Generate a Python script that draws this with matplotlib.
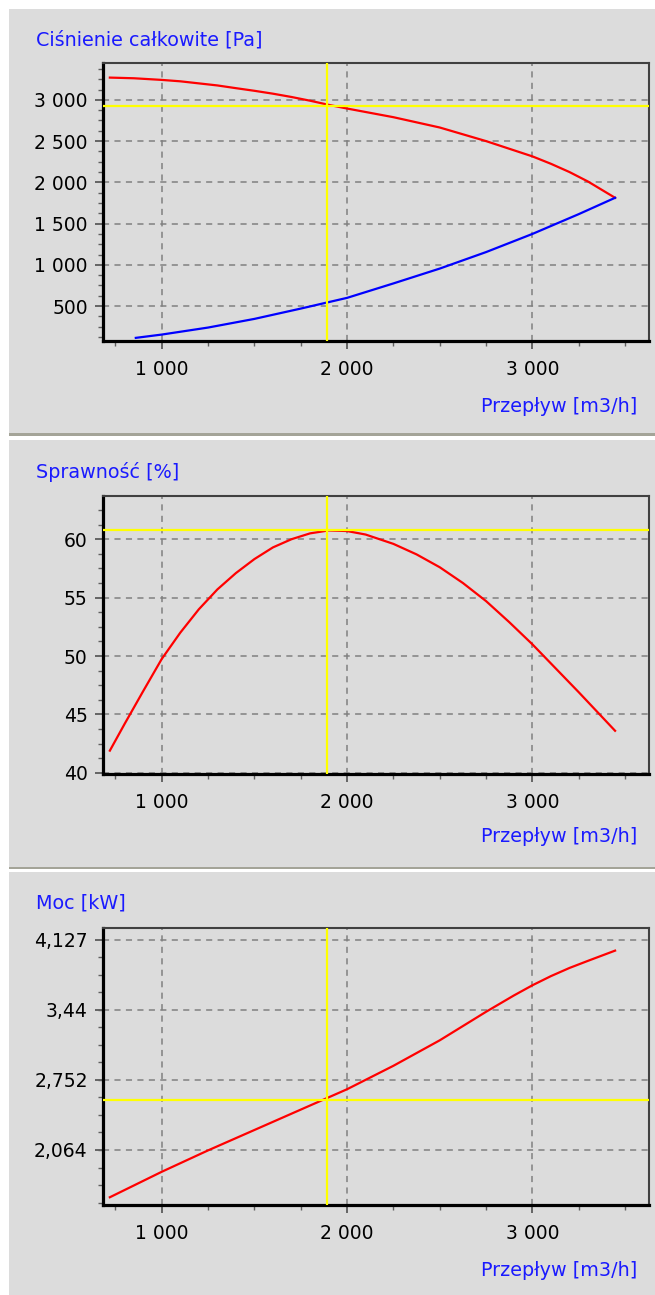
import matplotlib
matplotlib.use("Agg")
import matplotlib.pyplot as plt
from matplotlib.patches import Rectangle
from matplotlib.ticker import FixedLocator, FuncFormatter, MultipleLocator

W, H = 655, 1295

# fan curve data
flow_pressure = [720, 850, 1000, 1100, 1200, 1300, 1400, 1500, 1600, 1700,
                 1800, 1900, 2000, 2250, 2500, 2750, 3000, 3100, 3200, 3300, 3400, 3446]
pressure_total = [3270, 3262, 3242, 3225, 3200, 3175, 3142, 3110, 3075, 3035,
                  2990, 2940, 2895, 2790, 2665, 2500, 2315, 2225, 2125, 2010, 1875, 1813]

flow_system = [860, 1000, 1250, 1500, 1750, 2000, 2250, 2500, 2750, 3000, 3250, 3446]
pressure_system = [115, 155, 240, 345, 470, 600, 775, 955, 1155, 1375, 1615, 1813]

flow_eff = [720, 800, 900, 1000, 1100, 1200, 1300, 1400, 1500, 1600, 1700,
            1800, 1900, 2000, 2100, 2250, 2375, 2500, 2625, 2750, 2875, 3000, 3250, 3446]
efficiency = [41.9, 44.2, 47.0, 49.75, 52.0, 54.0, 55.7, 57.1, 58.3, 59.3, 60.0,
              60.5, 60.75, 60.7, 60.4, 59.6, 58.7, 57.6, 56.25, 54.7, 52.9, 51.0, 46.9, 43.6]

flow_power = [720, 1000, 1250, 1500, 1750, 2000, 2250, 2500, 2750, 2900,
              3000, 3100, 3200, 3300, 3446]
power = [1.60, 1.85, 2.06, 2.26, 2.46, 2.66, 2.89, 3.14, 3.42, 3.58,
         3.68, 3.77, 3.85, 3.92, 4.02]

# operating point
op_flow = 1892
op_pressure = 2928
op_efficiency = 60.8
op_power = 2.555

power_ticks = [2.064, 2.752, 3.44, 4.127]

BG = "#dcdcdc"
BLUE = "#1a1aff"


def fig_rect(x, y, w, h, color):
    r = Rectangle((x / W, 1 - (y + h) / H), w / W, h / H,
                  transform=fig.transFigure, facecolor=color, edgecolor="none", zorder=-10)
    fig.add_artist(r)


def space_thousands(v, pos):
    return f"{int(round(v)):,}".replace(",", " ")


def comma_decimal(v, pos):
    s = f"{v:.3f}".rstrip("0").rstrip(".")
    return s.replace(".", ",")


def style_axes(ax):
    ax.set_facecolor(BG)
    ax.set_xlim(683, 3629)
    ax.xaxis.set_major_locator(FixedLocator([1000, 2000, 3000]))
    ax.xaxis.set_minor_locator(MultipleLocator(250))
    ax.xaxis.set_major_formatter(FuncFormatter(space_thousands))
    ax.grid(True, which="major", color="#808080", linestyle=(0, (4, 3.5)), linewidth=1.1)
    ax.set_axisbelow(True)
    for side in ("left", "bottom"):
        ax.spines[side].set_linewidth(2.3)
        ax.spines[side].set_color("black")
    for side in ("top", "right"):
        ax.spines[side].set_linewidth(1.5)
        ax.spines[side].set_color("#404040")
    ax.tick_params(which="major", direction="out", length=6, width=1.2, color="#505050",
                   labelsize=13.5, pad=5)
    ax.tick_params(which="minor", direction="out", length=3.5, width=1.0, color="#606060")
    ax.tick_params(axis="x", which="major", pad=8)


def add_axes_px(left, top, right, bottom):
    return fig.add_axes([left / W, 1 - bottom / H, (right - left) / W, (bottom - top) / H])


fig = plt.figure(figsize=(W / 100, H / 100), dpi=100, facecolor="white")

# panel backgrounds and separators
fig_rect(9, 9, W - 9, 424, BG)
fig_rect(9, 433, W - 9, 3, "#a4a498")
fig_rect(9, 440, W - 9, 427, BG)
fig_rect(9, 867, W - 9, 2, "#a4a498")
fig_rect(9, 872, W - 9, H - 872, BG)

# panel 1: total pressure
ax1 = add_axes_px(103, 63, 649, 341)
style_axes(ax1)
ax1.set_ylim(77, 3447)
ax1.yaxis.set_major_locator(FixedLocator([500, 1000, 1500, 2000, 2500, 3000]))
ax1.yaxis.set_minor_locator(MultipleLocator(125))
ax1.yaxis.set_major_formatter(FuncFormatter(space_thousands))
ax1.plot(flow_pressure, pressure_total, color="red", linewidth=1.6, zorder=3)
ax1.plot(flow_system, pressure_system, color="blue", linewidth=1.6, zorder=3)
ax1.axvline(op_flow, color="yellow", linewidth=1.6, zorder=4)
ax1.axhline(op_pressure, color="yellow", linewidth=1.6, zorder=4)

# panel 2: efficiency
ax2 = add_axes_px(103, 496, 649, 774)
style_axes(ax2)
ax2.set_ylim(39.9, 63.7)
ax2.yaxis.set_major_locator(FixedLocator([40, 45, 50, 55, 60]))
ax2.yaxis.set_minor_locator(MultipleLocator(1.25))
ax2.plot(flow_eff, efficiency, color="red", linewidth=1.6, zorder=3)
ax2.axvline(op_flow, color="yellow", linewidth=1.6, zorder=4)
ax2.axhline(op_efficiency, color="yellow", linewidth=1.6, zorder=4)

# panel 3: power
ax3 = add_axes_px(103, 928, 649, 1205)
style_axes(ax3)
ax3.set_ylim(1.524, 4.242)
ax3.yaxis.set_major_locator(FixedLocator(power_ticks))
ax3.yaxis.set_minor_locator(MultipleLocator(4.127 / 24))
ax3.yaxis.set_major_formatter(FuncFormatter(comma_decimal))
ax3.plot(flow_power, power, color="red", linewidth=1.6, zorder=3)
ax3.axvline(op_flow, color="yellow", linewidth=1.6, zorder=4)
ax3.axhline(op_power, color="yellow", linewidth=1.6, zorder=4)

# titles and axis names
for y_title, title, y_x in [(40, "Ciśnienie całkowite [Pa]", 407),
                            (472, "Sprawność [%]", 837),
                            (903, "Moc [kW]", 1271)]:
    fig.text(36 / W, 1 - y_title / H, title, color=BLUE, fontsize=13.8, ha="left", va="center")
    fig.text(637 / W, 1 - y_x / H, "Przepływ [m3/h]", color=BLUE, fontsize=13.8,
             ha="right", va="center")

fig.savefig("out.png", dpi=100, facecolor="white")
